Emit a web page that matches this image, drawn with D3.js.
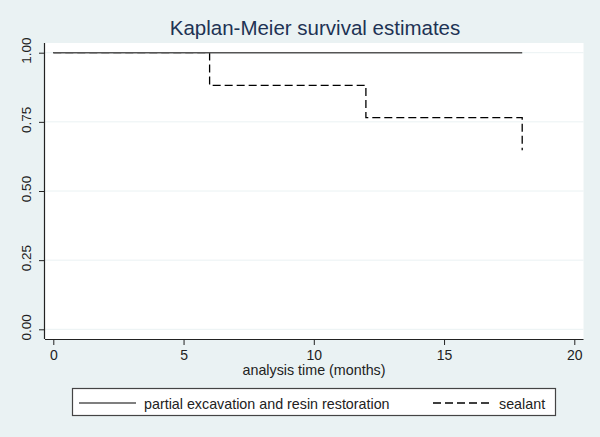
<!DOCTYPE html>
<html>
<head>
<meta charset="utf-8">
<script src="https://cdn.jsdelivr.net/npm/d3@7"></script>
<style>
  html, body { margin: 0; padding: 0; background: #eaf2f3; }
  svg { display: block; font-family: Arial, "Liberation Sans", sans-serif; }
</style>
</head>
<body>
<svg id="chart" width="600" height="437"></svg>
<script>
// ---- data ----
const title = "Kaplan-Meier survival estimates";
const xTitle = "analysis time (months)";
const xTicks = [0, 5, 10, 15, 20];
const yTicks = [0, 0.25, 0.5, 0.75, 1];
const seriesNames = ["partial excavation and resin restoration", "sealant"];
// step functions: [time, survival]
const resinSteps = [[0, 1.0], [18, 1.0]];
const sealantSteps = [[0, 1.0], [6, 0.882], [12, 0.765], [18, 0.647]];

// ---- layout ----
const svg = d3.select("#chart");
const W = 600, H = 437;
const plot = { left: 45, right: 583.5, top: 43, bottom: 339 };

svg.append("rect").attr("width", W).attr("height", H).attr("fill", "#eaf2f3");
svg.append("rect")
  .attr("x", plot.left).attr("y", plot.top)
  .attr("width", plot.right - plot.left).attr("height", plot.bottom - plot.top)
  .attr("fill", "#ffffff");

const x = d3.scaleLinear().domain([0, 20]).range([53.3, 574.3]);
const y = d3.scaleLinear().domain([0, 1]).range([329.3, 52.7]);

// gridlines
svg.append("g").selectAll("line").data(yTicks).join("line")
  .attr("x1", plot.left).attr("x2", plot.right)
  .attr("y1", d => y(d)).attr("y2", d => y(d))
  .attr("stroke", "#eaf2f3").attr("stroke-width", 1);

// step line builder
const stepLine = d3.line().x(d => x(d[0])).y(d => y(d[1])).curve(d3.curveStepAfter);

// sealant (drawn first, then solid on top)
svg.append("path").datum(sealantSteps)
  .attr("d", stepLine)
  .attr("fill", "none").attr("stroke", "#000").attr("stroke-width", 1.3)
  .attr("stroke-dasharray", "8,4");

svg.append("path").datum(resinSteps)
  .attr("d", stepLine)
  .attr("fill", "none").attr("stroke", "#555").attr("stroke-width", 1.5);

// axes
const xAxis = d3.axisBottom(x).tickValues(xTicks).tickSize(6).tickPadding(5).tickFormat(d3.format("d"));
const gx = svg.append("g").attr("transform", `translate(0,${plot.bottom})`).call(xAxis);
gx.select(".domain").attr("d", `M${plot.left},0.5H${plot.right}`).attr("stroke", "#222").attr("stroke-width", 1.2);
gx.selectAll(".tick line").attr("stroke", "#222");
gx.selectAll(".tick text").attr("font-size", 14).attr("fill", "#222").attr("font-family", "Arial, 'Liberation Sans', sans-serif");

const yAxis = d3.axisLeft(y).tickValues(yTicks).tickSize(6).tickFormat(d3.format(".2f"));
const gy = svg.append("g").attr("transform", `translate(${plot.left},0)`).call(yAxis);
gy.select(".domain").attr("d", `M-0.5,${plot.top}V${plot.bottom}`).attr("stroke", "#222").attr("stroke-width", 1.2);
gy.selectAll(".tick line").attr("stroke", "#222");
gy.selectAll(".tick text")
  .attr("x", null).attr("dy", null)
  .attr("text-anchor", "middle")
  .attr("transform", "translate(-14,-2.5) rotate(-90)")
  .attr("font-size", 13.5).attr("fill", "#222")
  .attr("font-family", "Arial, 'Liberation Sans', sans-serif");

// title
svg.append("text").attr("x", 315).attr("y", 35)
  .attr("text-anchor", "middle").attr("font-size", 20.5).attr("fill", "#1e3354")
  .text(title);

// x title
svg.append("text").attr("x", 314).attr("y", 375)
  .attr("text-anchor", "middle").attr("font-size", 14.3).attr("fill", "#222")
  .text(xTitle);

// legend
const leg = svg.append("g");
leg.append("rect").attr("x", 72.5).attr("y", 388.5).attr("width", 483).attr("height", 27)
  .attr("fill", "#fff").attr("stroke", "#444").attr("stroke-width", 1.2);
const legItems = [
  { name: seriesNames[0], x0: 79, x1: 136, tx: 144, dash: null, color: "#555" },
  { name: seriesNames[1], x0: 433, x1: 490, tx: 499, dash: "8,4", color: "#000" }
];
legItems.forEach(it => {
  leg.append("line").attr("x1", it.x0).attr("x2", it.x1).attr("y1", 403).attr("y2", 403)
    .attr("stroke", it.color).attr("stroke-width", 1.3)
    .attr("stroke-dasharray", it.dash);
  leg.append("text").attr("x", it.tx).attr("y", 408.5)
    .attr("font-size", 14.3).attr("fill", "#222").text(it.name);
});
</script>
</body>
</html>
